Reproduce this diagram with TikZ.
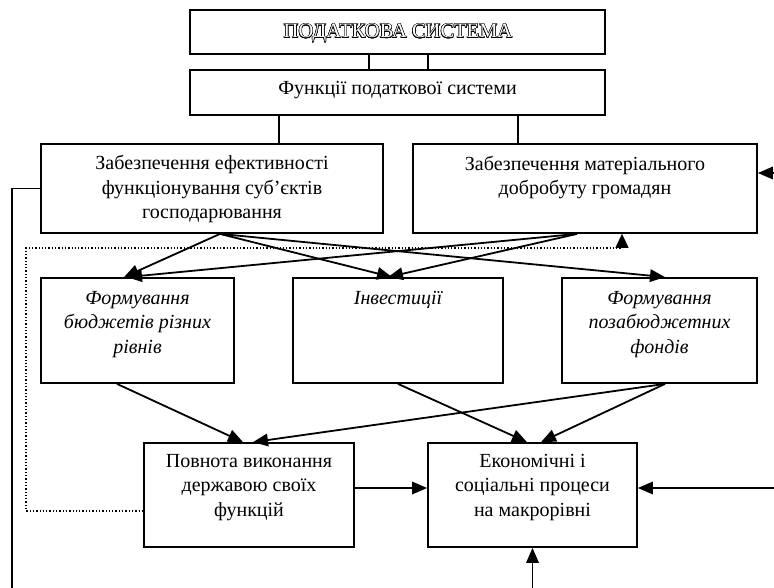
\documentclass[tikz,border=0pt]{standalone}
\usepackage{fontspec}
\setmainfont{Liberation Serif}
\usepackage{contour}
\usetikzlibrary{arrows.meta}
\contourlength{0.5pt}
\begin{document}
\begin{tikzpicture}[x=1pt,y=-1pt,
  box/.style={draw, line width=1.8pt, inner sep=0pt},
  txt/.style={font=\fontsize{20}{24.5}\selectfont, align=center, inner sep=0pt, anchor=base},
  ln/.style={line width=1.8pt},
  arr/.style={line width=1.8pt, -{Triangle[length=15pt,width=12.5pt]}},
  dots/.style={line width=1.3pt, dotted, -{Triangle[length=14pt,width=13pt]}}]
\useasboundingbox (0,0) rectangle (774,588);
% boxes
\node[box, minimum width=415pt, minimum height=44pt] (T) at (397.5,32) {};
\node[box, minimum width=415pt, minimum height=45pt] (Fn) at (397.5,92.5) {};
\node[box, minimum width=342pt, minimum height=89pt] (A) at (212,188.5) {};
\node[box, minimum width=344pt, minimum height=89pt] (B) at (585,188.5) {};
\node[box, minimum width=193pt, minimum height=105pt] (C) at (137.5,330.5) {};
\node[box, minimum width=210pt, minimum height=105pt] (D) at (398,330.5) {};
\node[box, minimum width=195pt, minimum height=105pt] (E) at (659.5,330.5) {};
\node[box, minimum width=210pt, minimum height=104pt] (F) at (249,495) {};
\node[box, minimum width=209pt, minimum height=104pt] (G) at (532.5,495) {};
% texts (anchor base = baseline of the last line)
\node[txt, font=\fontsize{20.5}{24}\selectfont] (Tt) at (398,38) {\contour{black}{\textcolor{white}{ПОДАТКОВА СИСТЕМА}}};
\node[txt] (Fnt) at (397.5,95) {Функції податкової системи};
\node[txt] (At) at (212,219) {Забезпечення ефективності\\функціонування суб’єктів\\господарювання};
\node[txt] (Bt) at (585,195) {Забезпечення матеріального\\добробуту громадян};
\node[txt] (Ct) at (137.5,353) {\itshape Формування\\\itshape бюджетів різних\\\itshape рівнів};
\node[txt] (Dt) at (398,304) {\itshape Інвестиції};
\node[txt] (Et) at (659.5,353) {\itshape Формування\\\itshape позабюджетних\\\itshape фондів};
\node[txt] (Ft) at (249,516) {Повнота виконання\\державою своїх\\функцій};
\node[txt] (Gt) at (532.5,516) {Економічні і\\соціальні процеси\\на макрорівні};
% helper coordinates
\coordinate (v1) at (369,0);
\coordinate (v2) at (428,0);
\coordinate (v3) at (279,0);
\coordinate (v4) at (518,0);
\coordinate (r1) at (774,173);
\coordinate (r2) at (774,488);
\coordinate (b1) at (532.5,588);
\coordinate (l1) at (12,588);
\coordinate (d1) at (26,511);
\coordinate (d2) at (26,248);
\coordinate (d3) at (622,248);
% plain connectors
\draw[ln] (v1 |- T.south) -- (v1 |- Fn.north);
\draw[ln] (v2 |- T.south) -- (v2 |- Fn.north);
\draw[ln] (v3 |- Fn.south) -- (v3 |- A.north);
\draw[ln] (v4 |- Fn.south) -- (v4 |- B.north);
\draw[ln] (A.west) -| (l1);
% arrows from A and B
\draw[arr] ([xshift=8pt]A.south) -- ([xshift=-13.5pt]C.north);
\draw[arr] ([xshift=8pt]A.south) -- ([xshift=-6pt]D.north);
\draw[arr] ([xshift=8pt]A.south) -- ([xshift=5.5pt]E.north);
\draw[arr] ([xshift=-8pt]B.south) -- ([xshift=-10.5pt]C.north);
\draw[arr] ([xshift=-8pt]B.south) -- ([xshift=-10pt]D.north);
% arrows to bottom row
\draw[arr] ([xshift=-20.5pt]C.south) -- ([xshift=-6pt]F.north);
\draw[arr] ([xshift=5.5pt]E.south) -- ([xshift=4pt]F.north);
\draw[arr] (D.south) -- ([xshift=-5.5pt]G.north);
\draw[arr] ([xshift=5.5pt]E.south) -- ([xshift=8.5pt]G.north);
\draw[arr] ([yshift=7pt]F.east) -- ([yshift=7pt]G.west);
\draw[arr] (r2) -- (r2 -| G.east);
\draw[arr] (b1) -- (G.south);
\draw[arr] (r1) -- (r1 -| B.east);
% dotted feedback
\draw[dots] ([yshift=-16pt]F.west) -- (d1) -- (d2) -- (d3) -- (d3 |- B.south);
\end{tikzpicture}
\end{document}
